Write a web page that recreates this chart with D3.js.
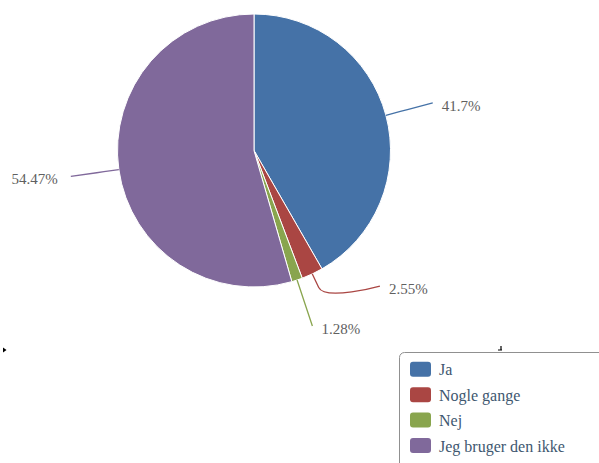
<!DOCTYPE html>
<html>
<head>
<meta charset="utf-8">
<script src="https://cdn.jsdelivr.net/npm/d3@7"></script>
<style>
  html, body { margin: 0; padding: 0; background: #fff; }
  svg { display: block; }
  svg text { font-family: "Times New Roman", Times, Tinos, "Liberation Serif", "Noto Serif", "DejaVu Serif", serif; }
</style>
</head>
<body>
<div id="chart"></div>
<script>
const categories = ["Ja", "Nogle gange", "Nej", "Jeg bruger den ikke"];
const values = [41.7, 2.55, 1.28, 54.47];
const colors = ["#4572A7", "#AA4643", "#89A54E", "#80699B"];
const labelTexts = ["41.7%", "2.55%", "1.28%", "54.47%"];

const W = 599, H = 463;
const cx = 254, cy = 150.5, r = 136.5;
const labelDist = 48.5;
const R = r + labelDist;

const svg = d3.select("#chart").append("svg")
  .attr("width", W).attr("height", H);

const data = categories.map((c, i) => ({ cat: c, value: values[i], color: colors[i], label: labelTexts[i] }));
const pie = d3.pie().sort(null).value(d => d.value);
const arcs = pie(data);
const arcGen = d3.arc().innerRadius(0).outerRadius(r);

const g = svg.append("g").attr("transform", `translate(${cx},${cy})`);
g.selectAll("path.slice").data(arcs).enter().append("path")
  .attr("class", "slice")
  .attr("d", arcGen)
  .attr("fill", d => d.data.color)
  .attr("stroke", "#fff")
  .attr("stroke-width", 1)
  .attr("stroke-linejoin", "round");

// label layout
const polar = (a, rad) => [Math.sin(a) * rad, -Math.cos(a) * rad];
const items = arcs.map(a => {
  const mid = (a.startAngle + a.endAngle) / 2;
  const nat = polar(mid, R);
  return { arc: a, mid, left: mid > Math.PI, y: nat[1] };
});
["right", "left"].forEach(side => {
  const grp = items.filter(it => (side === "left") === it.left).sort((a, b) => b.y - a.y);
  for (let i = 1; i < grp.length; i++) {
    grp[i].y = Math.min(grp[i].y, grp[i - 1].y - 40);
  }
});
items.forEach(it => {
  const dy = Math.max(-R, Math.min(R, it.y));
  const dx = Math.sqrt(R * R - dy * dy);
  it.x = it.left ? -dx : dx;
  it.edge = polar(it.mid, r);
  it.brk = polar(it.mid, r + 15);
  it.ctrl = [2 * it.brk[0] - it.edge[0], 2 * it.brk[1] - it.edge[1]];
});

g.selectAll("path.conn").data(items).enter().append("path")
  .attr("class", "conn")
  .attr("d", d => `M${d.x},${d.y} C${d.x},${d.y} ${d.ctrl[0]},${d.ctrl[1]} ${d.brk[0]},${d.brk[1]} L${d.edge[0]},${d.edge[1]}`)
  .attr("fill", "none")
  .attr("stroke", d => d.arc.data.color)
  .attr("stroke-width", 1.3);

g.selectAll("text.lbl").data(items).enter().append("text")
  .attr("class", "lbl")
  .attr("x", d => d.left ? d.x - 13 : d.x + 9)
  .attr("y", d => d.y + 8)
  .attr("text-anchor", d => d.left ? "end" : "start")
  .attr("fill", "#606060")
  .attr("font-size", "15px")
  .text(d => d.arc.data.label);

// legend
const lg = svg.append("g");
lg.append("rect")
  .attr("x", 399.5).attr("y", 352.5)
  .attr("width", 230).attr("height", 140)
  .attr("rx", 5).attr("ry", 5)
  .attr("fill", "#fff")
  .attr("stroke", "#909090")
  .attr("stroke-width", 1);
const rowY = d3.scalePoint().domain(categories).range([369.3, 445.5]);
const li = lg.selectAll("g.item").data(data).enter().append("g").attr("class", "item");
li.append("rect")
  .attr("x", 410).attr("y", d => rowY(d.cat) - 7.5)
  .attr("width", 21).attr("height", 15)
  .attr("rx", 3).attr("ry", 3)
  .attr("fill", d => d.color);
li.append("text")
  .attr("x", 439).attr("y", d => rowY(d.cat) + 6)
  .attr("fill", "#3E576F")
  .attr("font-size", "16px")
  .text(d => d.cat);

// small artifacts
svg.append("path").attr("d", "M3,347.5 L6.5,350 L3,352.5 Z").attr("fill", "#000");
svg.append("path").attr("d", "M501,346 L501,350 M498,350 L502,350").attr("stroke", "#000").attr("stroke-width", 1.2).attr("fill", "none");
</script>
</body>
</html>
